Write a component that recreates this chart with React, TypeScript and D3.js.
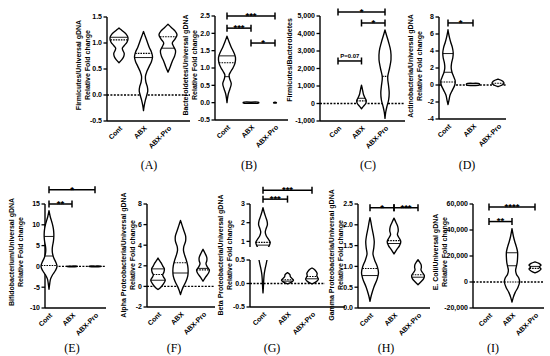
import React from 'react';
import * as d3 from 'd3';

type Pt = [number, number];
type Violin = { shape: Pt[]; med?: number; quart?: number[] };
type Bracket = { from: string; to: string; at: number; label: string };

// categories
const groups = ['Cont', 'ABX', 'ABX-Pro'];
const groupsC = ['Con', 'ABX', 'ABX-Pro'];

// tick values
const ticksA = [-0.5, 0, 0.5, 1, 1.5];
const ticksB = [-0.5, 0, 0.5, 1, 1.5, 2, 2.5];
const ticksC = [-1000, 0, 1000, 2000, 3000, 4000, 5000];
const ticksD = [-4, -2, 0, 2, 4, 6, 8];
const ticksE = [-10, -5, 0, 5, 10, 15];
const ticksF = [-2, 0, 2, 4, 6, 8];
const ticksGUpper = [1, 2, 3];
const ticksGLower = [-0.5, 0, 0.5];
const ticksH = [0, 0.5, 1, 1.5, 2, 2.5];
const ticksI = [-20000, 0, 20000, 40000, 60000];

// violin outlines: [value, relative density]
const violinsA: Violin[] = [
  { shape: [[0.62, 0], [0.68, 0.3], [0.74, 0.5], [0.8, 0.55], [0.86, 0.4], [0.9, 0.35], [0.95, 0.55], [1.02, 0.85], [1.1, 0.95], [1.17, 0.75], [1.22, 0.45], [1.26, 0.2], [1.29, 0]], med: 1.06, quart: [1.11] },
  { shape: [[-0.3, 0], [-0.2, 0.08], [-0.1, 0.2], [0, 0.35], [0.08, 0.45], [0.16, 0.4], [0.25, 0.25], [0.35, 0.2], [0.45, 0.35], [0.55, 0.6], [0.65, 0.85], [0.73, 0.95], [0.82, 0.85], [0.92, 0.6], [1.02, 0.4], [1.12, 0.2], [1.22, 0]], med: 0.8, quart: [0.72] },
  { shape: [[0.44, 0], [0.55, 0.25], [0.65, 0.45], [0.75, 0.7], [0.85, 0.8], [0.93, 0.6], [1.0, 0.45], [1.08, 0.75], [1.16, 0.95], [1.24, 0.7], [1.3, 0.35], [1.36, 0]], med: 1.12, quart: [0.9] },
];
const violinsB: Violin[] = [
  { shape: [[0, 0], [0.1, 0.05], [0.25, 0.15], [0.4, 0.35], [0.55, 0.5], [0.7, 0.3], [0.8, 0.25], [0.9, 0.45], [1.0, 0.7], [1.15, 0.95], [1.3, 1], [1.45, 0.8], [1.6, 0.5], [1.75, 0.25], [1.92, 0]], med: 1.15, quart: [1.35, 0.75] },
  { shape: [[-0.015, 0], [-0.01, 0.9], [0.01, 0.9], [0.015, 0]] },
  { shape: [[-0.015, 0], [-0.01, 0.15], [0.01, 0.15], [0.015, 0]] },
];
const violinsC: Violin[] = [
  { shape: [] },
  { shape: [[-300, 0], [-150, 0.35], [0, 0.7], [150, 0.8], [300, 0.6], [500, 0.35], [700, 0.22], [900, 0.1], [1050, 0]], med: 150, quart: [300] },
  { shape: [[-850, 0], [-500, 0.12], [-200, 0.3], [200, 0.6], [600, 0.7], [1000, 0.6], [1500, 0.45], [2000, 0.75], [2500, 1], [3000, 0.95], [3500, 0.6], [3900, 0.25], [4200, 0]], med: 1550 },
];
const violinsD: Violin[] = [
  { shape: [[-2.3, 0], [-1.8, 0.12], [-1.2, 0.25], [-0.6, 0.55], [0, 0.85], [0.5, 0.9], [1.0, 0.7], [1.5, 0.5], [2.0, 0.4], [2.6, 0.45], [3.2, 0.6], [3.8, 0.65], [4.4, 0.55], [5.0, 0.35], [5.6, 0.18], [6.1, 0.07], [6.5, 0]], med: 0.35, quart: [3.7, 1.5] },
  { shape: [[-0.05, 0], [0, 0.8], [0.15, 0.8], [0.2, 0]] },
  { shape: [[-0.2, 0], [0, 0.5], [0.2, 0.75], [0.45, 0.6], [0.7, 0]], med: 0.2 },
];
const violinsE: Violin[] = [
  { shape: [[-5.5, 0], [-4, 0.1], [-3, 0.2], [-2, 0.45], [-1, 0.8], [0, 1], [1, 0.85], [2, 0.6], [3, 0.45], [4, 0.4], [5, 0.45], [6, 0.55], [7, 0.6], [8, 0.6], [9, 0.55], [10, 0.45], [11, 0.3], [12, 0.15], [13.4, 0]], med: 0.2, quart: [7.2, 2.5] },
  { shape: [[-0.06, 0], [-0.04, 0.65], [0.04, 0.65], [0.06, 0]] },
  { shape: [[-0.06, 0], [-0.04, 0.75], [0.04, 0.75], [0.06, 0]] },
];
const violinsF: Violin[] = [
  { shape: [[-0.3, 0], [-0.1, 0.3], [0.2, 0.6], [0.6, 0.85], [0.9, 0.65], [1.1, 0.55], [1.4, 0.7], [1.7, 0.75], [2.0, 0.55], [2.3, 0.35], [2.55, 0.15], [2.75, 0]], med: 1.15, quart: [1.7, 0.6] },
  { shape: [[-0.8, 0], [-0.4, 0.15], [0, 0.35], [0.5, 0.65], [1.0, 0.85], [1.5, 0.9], [2.0, 0.85], [2.5, 0.7], [3.0, 0.5], [3.5, 0.35], [3.9, 0.4], [4.4, 0.6], [4.9, 0.6], [5.4, 0.4], [5.9, 0.2], [6.4, 0]], med: 2.3, quart: [1.3] },
  { shape: [[0.5, 0], [0.9, 0.3], [1.3, 0.65], [1.6, 0.75], [1.9, 0.5], [2.2, 0.35], [2.5, 0.45], [2.8, 0.45], [3.2, 0.25], [3.6, 0]], med: 1.6, quart: [1.75] },
];
const violinsG: Violin[] = [
  { shape: [[-0.2, 0], [-0.1, 0.04], [0, 0.07], [0.1, 0.1], [0.2, 0.15], [0.3, 0.25], [0.4, 0.38], [0.5, 0.5], [0.7, 0.7], [0.85, 0.85], [0.95, 0.9], [1.1, 0.7], [1.3, 0.4], [1.5, 0.28], [1.7, 0.4], [1.9, 0.55], [2.1, 0.5], [2.35, 0.3], [2.6, 0.12], [2.8, 0]], med: 0.95, quart: [0.8] },
  { shape: [[-0.01, 0], [0.03, 0.5], [0.07, 0.75], [0.11, 0.55], [0.15, 0.35], [0.19, 0.3], [0.23, 0]], med: 0.08, quart: [0.05] },
  { shape: [[-0.01, 0], [0.04, 0.55], [0.09, 0.8], [0.13, 0.7], [0.17, 0.6], [0.21, 0.65], [0.26, 0.5], [0.3, 0.3], [0.33, 0]], med: 0.15, quart: [0.1] },
];
const violinsH: Violin[] = [
  { shape: [[0.16, 0], [0.3, 0.15], [0.5, 0.45], [0.7, 0.85], [0.85, 1], [1.0, 0.85], [1.15, 0.55], [1.3, 0.35], [1.45, 0.45], [1.6, 0.5], [1.75, 0.4], [1.9, 0.25], [2.05, 0.12], [2.17, 0]], med: 0.95, quart: [0.78] },
  { shape: [[1.3, 0], [1.4, 0.3], [1.5, 0.65], [1.6, 0.8], [1.7, 0.55], [1.77, 0.4], [1.85, 0.5], [1.95, 0.45], [2.05, 0.25], [2.16, 0]], med: 1.62, quart: [1.55] },
  { shape: [[0.56, 0], [0.63, 0.35], [0.7, 0.65], [0.78, 0.75], [0.86, 0.5], [0.92, 0.35], [0.98, 0.4], [1.05, 0.35], [1.1, 0.2], [1.16, 0]], med: 0.8, quart: [0.74] },
];
const violinsI: Violin[] = [
  { shape: [] },
  { shape: [[-15500, 0], [-12000, 0.15], [-8000, 0.4], [-4000, 0.75], [0, 0.95], [3000, 0.85], [6000, 0.55], [9000, 0.45], [12000, 0.55], [15000, 0.65], [19000, 0.7], [23000, 0.7], [27000, 0.55], [31000, 0.35], [35000, 0.18], [41000, 0]], med: 0, quart: [22500, 12500] },
  { shape: [[7000, 0], [8500, 0.5], [10000, 0.75], [11500, 0.55], [13000, 0.75], [14300, 0.5], [15500, 0]], med: 10500, quart: [12000] },
];

// significance brackets (at = value on the y axis)
const bracketsB: Bracket[] = [
  { from: 'Cont', to: 'ABX-Pro', at: 2.5, label: '***' },
  { from: 'Cont', to: 'ABX', at: 2.15, label: '***' },
  { from: 'ABX', to: 'ABX-Pro', at: 1.72, label: '*' },
];
const bracketsC: Bracket[] = [
  { from: 'Con', to: 'ABX-Pro', at: 5230, label: '*' },
  { from: 'ABX', to: 'ABX-Pro', at: 4600, label: '*' },
  { from: 'Con', to: 'ABX', at: 2430, label: 'P=0.07' },
];
const bracketsD: Bracket[] = [{ from: 'Cont', to: 'ABX', at: 7.3, label: '*' }];
const bracketsE: Bracket[] = [
  { from: 'Cont', to: 'ABX-Pro', at: 18.4, label: '*' },
  { from: 'Cont', to: 'ABX', at: 15, label: '**' },
];
const bracketsG: Bracket[] = [
  { from: 'Cont', to: 'ABX-Pro', at: 3.74, label: '***' },
  { from: 'Cont', to: 'ABX', at: 3.26, label: '***' },
];
const bracketsH: Bracket[] = [
  { from: 'Cont', to: 'ABX', at: 2.41, label: '*' },
  { from: 'ABX', to: 'ABX-Pro', at: 2.41, label: '***' },
];
const bracketsI: Bracket[] = [
  { from: 'Cont', to: 'ABX-Pro', at: 57600, label: '****' },
  { from: 'Cont', to: 'ABX', at: 46500, label: '**' },
];

const fmt = (f: string) => {
  const g = d3.format(f);
  return (v: number) => g(v).replace('\u2212', '-');
};

type Seg = { domain: [number, number]; range: [number, number]; ticks: number[]; f: (v: number) => string };
type Panel = {
  id: string; cats: string[]; violins: Violin[]; brackets: Bracket[]; title: string[];
  segs: Seg[]; axisX: number; catRange: [number, number]; zeroEnd?: number; xEnd: number;
  titleX: number[]; titleY: number; letter: [number, number]; hw: number;
};

const f1 = fmt('.1f');
const fi = fmt('d');
const fc = fmt(',');

const panels: Panel[] = [
  { id: 'A', cats: groups, violins: violinsA, brackets: [], title: ['Firmicutes/Universal gDNA', 'Relative Fold change'],
    segs: [{ domain: [-0.5, 1.5], range: [121, 17], ticks: ticksA, f: f1 }], axisX: 107, catRange: [119, 168], zeroEnd: 190, xEnd: 190,
    titleX: [79, 88], titleY: 65, letter: [149, 169], hw: 9.5 },
  { id: 'B', cats: groups, violins: violinsB, brackets: bracketsB, title: ['Bacteroidetes/Universal gDNA', 'Relative Fold change'],
    segs: [{ domain: [-0.5, 2.5], range: [120, 16], ticks: ticksB, f: f1 }], axisX: 215, catRange: [227, 275], xEnd: 288,
    titleX: [186, 195], titleY: 65, letter: [249, 169], hw: 8.5 },
  { id: 'C', cats: groupsC, violins: violinsC, brackets: bracketsC, title: ['Firmicutes/Bacteroidetes'],
    segs: [{ domain: [-1000, 5000], range: [121, 16], ticks: ticksC, f: fc }], axisX: 320, catRange: [338, 385], zeroEnd: 405, xEnd: 405,
    titleX: [290], titleY: 60, letter: [368, 169], hw: 6 },
  { id: 'D', cats: groups, violins: violinsD, brackets: bracketsD, title: ['Actinobacteria/Universal gDNA', 'Relative Fold change'],
    segs: [{ domain: [-4, 8], range: [119, 17], ticks: ticksD, f: fi }], axisX: 439, catRange: [448, 498], zeroEnd: 506, xEnd: 506,
    titleX: [411, 420], titleY: 66, letter: [467, 169], hw: 8 },
  { id: 'E', cats: groups, violins: violinsE, brackets: bracketsE, title: ['Bifidobacterium/Universal gDNA', 'Relative Fold change'],
    segs: [{ domain: [-10, 15], range: [308, 204], ticks: ticksE, f: fi }], axisX: 45, catRange: [49, 95], zeroEnd: 106, xEnd: 106,
    titleX: [12, 21], titleY: 252, letter: [72, 352], hw: 8 },
  { id: 'F', cats: groups, violins: violinsF, brackets: [], title: ['Alpha Proteobacteria/Universal gDNA', 'Relative Fold change'],
    segs: [{ domain: [-2, 8], range: [307, 204], ticks: ticksF, f: fi }], axisX: 147, catRange: [158, 203], zeroEnd: 215, xEnd: 215,
    titleX: [124, 133], titleY: 255, letter: [174, 352], hw: 8.5 },
  { id: 'G', cats: groups, violins: violinsG, brackets: bracketsG, title: ['Beta Proteobacteria/Universal gDNA', 'Relative Fold change'],
    segs: [
      { domain: [0.7, 3], range: [247, 204], ticks: ticksGUpper, f: fi },
      { domain: [-0.5, 0.5], range: [307, 260], ticks: ticksGLower, f: f1 },
    ], axisX: 250, catRange: [263, 312], zeroEnd: 325, xEnd: 345,
    titleX: [221, 230], titleY: 255, letter: [272, 352], hw: 8 },
  { id: 'H', cats: groups, violins: violinsH, brackets: bracketsH, title: ['Gamma Proteobacteria/Universal gDNA', 'Relative Fold change'],
    segs: [{ domain: [0, 2.5], range: [308, 204], ticks: ticksH, f: f1 }], axisX: 358, catRange: [370, 418], xEnd: 430,
    titleX: [332, 341], titleY: 255, letter: [386, 352], hw: 8.5 },
  { id: 'I', cats: groups, violins: violinsI, brackets: bracketsI, title: ['E. Coli/Universal gDNA', 'Relative Fold change'],
    segs: [{ domain: [-20000, 60000], range: [308, 204], ticks: ticksI, f: fc }], axisX: 473, catRange: [489, 535], zeroEnd: 544, xEnd: 544,
    titleX: [436, 445], titleY: 252, letter: [493, 352], hw: 8 },
];

const sans = '"Liberation Sans", Arial, sans-serif';

const densAt = (s: Pt[], v: number) => {
  for (let i = 1; i < s.length; i++) {
    const [a, da] = s[i - 1];
    const [b, db] = s[i];
    if (v >= a && v <= b) return b === a ? Math.max(da, db) : da + ((db - da) * (v - a)) / (b - a);
  }
  return 0;
};

function PanelView({ p }: { p: Panel }) {
  const x = d3.scalePoint<string>().domain(p.cats).range(p.catRange);
  const ys = p.segs.map((s) => d3.scaleLinear().domain(s.domain).range(s.range));
  const yTop = ys[0];
  const yZero = ys[ys.length - 1];
  const bottom = p.segs[p.segs.length - 1].range[0];
  const broken = p.segs.length > 1;

  return (
    <g>
      {broken &&
        p.segs.map((s, i) => (
          <clipPath id={`clip-${p.id}-${i}`} key={i}>
            <rect x={p.axisX} width={p.xEnd - p.axisX}
              y={i === 0 ? s.range[1] - 30 : s.range[1]}
              height={i === 0 ? s.range[0] - s.range[1] + 30 : s.range[0] - s.range[1] + 10} />
          </clipPath>
        ))}

      {/* y axis */}
      {p.segs.map((s, i) => (
        <g key={i}>
          <line x1={p.axisX} x2={p.axisX} y1={s.range[1]} y2={s.range[0]} stroke="#000" strokeWidth={1.4} />
          {s.ticks.map((t) => (
            <g key={t}>
              <line x1={p.axisX - 3.5} x2={p.axisX} y1={ys[i](t)} y2={ys[i](t)} stroke="#000" strokeWidth={1.3} />
              <text x={p.axisX - 5} y={ys[i](t)} dy="0.35em" textAnchor="end" fontFamily={sans} fontWeight="bold" fontSize={7}>
                {s.f(t)}
              </text>
            </g>
          ))}
        </g>
      ))}

      {/* x axis */}
      <line x1={p.axisX} x2={p.xEnd} y1={bottom} y2={bottom} stroke="#000" strokeWidth={1.4} />
      {p.cats.map((c) => (
        <text key={c} transform={`translate(${x(c)! + 2},${bottom + 6}) rotate(-45)`} dy="0.35em" textAnchor="end"
          fontFamily={sans} fontWeight="bold" fontSize={7}>
          {c}
        </text>
      ))}

      {/* zero line */}
      {p.zeroEnd !== undefined && (
        <line x1={p.axisX} x2={p.zeroEnd} y1={yZero(0)} y2={yZero(0)} stroke="#000" strokeWidth={1.3} strokeDasharray="2,1.4" />
      )}

      {/* violins */}
      {p.violins.map((v, vi) => {
        if (!v.shape.length) return null;
        const cx = x(p.cats[vi])!;
        return ys.map((y, si) => {
          const area = d3.area<Pt>()
            .y((d) => y(d[0]))
            .x0((d) => cx - d[1] * p.hw)
            .x1((d) => cx + d[1] * p.hw)
            .curve(d3.curveCatmullRom.alpha(0.5));
          const clip = broken ? `url(#clip-${p.id}-${si})` : undefined;
          const hl = (val: number, dashed: boolean, k: string) => {
            const w = densAt(v.shape, val) * p.hw;
            return (
              <line key={k} x1={cx - w} x2={cx + w} y1={y(val)} y2={y(val)} stroke="#000"
                strokeWidth={dashed ? 1.1 : 0.9} strokeDasharray={dashed ? '1.6,1' : undefined} />
            );
          };
          return (
            <g key={`${vi}-${si}`} clipPath={clip}>
              <path d={area(v.shape)!} fill="#fff" stroke="#000" strokeWidth={1.35} strokeLinejoin="round" />
              {(v.quart || []).map((q, qi) => hl(q, false, `q${qi}`))}
              {v.med !== undefined && hl(v.med, true, 'm')}
            </g>
          );
        });
      })}

      {/* brackets */}
      {p.brackets.map((b, i) => {
        const x1 = x(b.from)!;
        const x2 = x(b.to)!;
        const yy = yTop(b.at);
        const star = b.label.startsWith('*');
        return (
          <g key={i} stroke="#000" strokeWidth={1.5}>
            <line x1={x1} x2={x2} y1={yy} y2={yy} />
            <line x1={x1} x2={x1} y1={yy - 3.5} y2={yy + 3.5} />
            <line x1={x2} x2={x2} y1={yy - 3.5} y2={yy + 3.5} />
            <text x={(x1 + x2) / 2} y={star ? yy + 2.8 : yy - 2.5} textAnchor="middle" stroke="none"
              fontFamily={sans} fontWeight="bold" fontSize={star ? 9.5 : 6}>
              {b.label}
            </text>
          </g>
        );
      })}

      {/* y title */}
      {p.title.map((t, i) => (
        <text key={i} transform={`translate(${p.titleX[i]},${p.titleY}) rotate(-90)`} textAnchor="middle" dy="0.35em"
          fontFamily={sans} fontWeight="bold" fontSize={7}>
          {t}
        </text>
      ))}

      <text x={p.letter[0]} y={p.letter[1]} textAnchor="middle" fontFamily='"Liberation Serif", "Times New Roman", serif' fontSize={12}>
        ({p.id})
      </text>
    </g>
  );
}

export default function App() {
  return (
    <svg width={550} height={356} style={{ position: 'absolute', left: 0, top: 0, background: '#fff' }}>
      <rect width={550} height={356} fill="#fff" />
      {panels.map((p) => (
        <PanelView key={p.id} p={p} />
      ))}
    </svg>
  );
}
